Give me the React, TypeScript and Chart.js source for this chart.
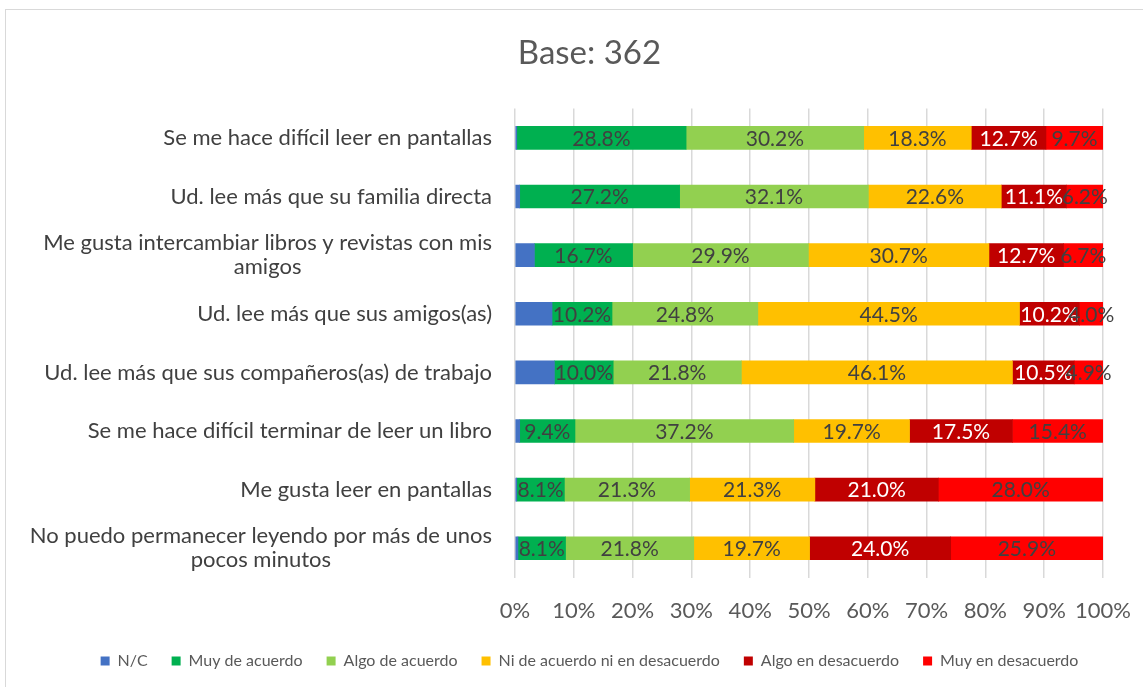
import React, { useEffect, useRef } from 'react';
import { Chart, registerables } from 'chart.js';

Chart.register(...registerables);

const FONT = 'Lato, "Noto Sans", sans-serif';

const title = 'Base: 362';
const categories: string[][] = [
  ['Se me hace difícil leer en pantallas'],
  ['Ud. lee más que su familia directa'],
  ['Me gusta intercambiar libros y revistas con mis', 'amigos'],
  ['Ud. lee más que sus amigos(as)'],
  ['Ud. lee más que sus compañeros(as) de trabajo'],
  ['Se me hace difícil terminar de leer un libro'],
  ['Me gusta leer en pantallas'],
  ['No puedo permanecer leyendo por más de unos', 'pocos minutos'],
];
const seriesNames = [
  'N/C',
  'Muy de acuerdo',
  'Algo de acuerdo',
  'Ni de acuerdo ni en desacuerdo',
  'Algo en desacuerdo',
  'Muy en desacuerdo',
];
const nc = [0.3, 0.8, 3.3, 6.3, 6.7, 0.8, 0.3, 0.5];
const muyDeAcuerdo = [28.8, 27.2, 16.7, 10.2, 10.0, 9.4, 8.1, 8.1];
const algoDeAcuerdo = [30.2, 32.1, 29.9, 24.8, 21.8, 37.2, 21.3, 21.8];
const niNi = [18.3, 22.6, 30.7, 44.5, 46.1, 19.7, 21.3, 19.7];
const algoEnDesacuerdo = [12.7, 11.1, 12.7, 10.2, 10.5, 17.5, 21.0, 24.0];
const muyEnDesacuerdo = [9.7, 6.2, 6.7, 4.0, 4.9, 15.4, 28.0, 25.9];

const seriesValues = [nc, muyDeAcuerdo, algoDeAcuerdo, niNi, algoEnDesacuerdo, muyEnDesacuerdo];
const seriesColors = ['#4472C4', '#00B050', '#92D050', '#FFC000', '#C00000', '#FF0000'];
const labelColors = ['#404040', '#404040', '#404040', '#404040', '#FFFFFF', '#404040'];
const showLabels = [false, true, true, true, true, true];

const rowTotals = categories.map((_, i) => seriesValues.reduce((s, arr) => s + arr[i], 0));

const dataLabelPlugin = {
  id: 'dataLabels',
  afterDatasetsDraw(chart: any) {
    const ctx = chart.ctx;
    ctx.save();
    ctx.font = `21px ${FONT}`;
    ctx.textAlign = 'center';
    ctx.textBaseline = 'middle';
    chart.data.datasets.forEach((ds: any, d: number) => {
      if (!showLabels[d]) return;
      const meta = chart.getDatasetMeta(d);
      meta.data.forEach((el: any, i: number) => {
        const p = el.getCenterPoint();
        ctx.fillStyle = labelColors[d];
        ctx.fillText(seriesValues[d][i].toFixed(1) + '%', p.x, p.y + 1);
      });
    });
    ctx.restore();
  },
};

const yLabelPlugin = {
  id: 'yLabels',
  afterDraw(chart: any) {
    const ctx = chart.ctx;
    const yScale = chart.scales.y;
    const right = chart.chartArea.left - 23;
    const lh = 24;
    ctx.save();
    ctx.font = `22px ${FONT}`;
    ctx.fillStyle = '#404040';
    ctx.textAlign = 'center';
    ctx.textBaseline = 'middle';
    categories.forEach((lines, i) => {
      const y = yScale.getPixelForValue(i);
      const widest = Math.max(...lines.map((l) => ctx.measureText(l).width));
      const cx = right - widest / 2;
      const y0 = y - ((lines.length - 1) * lh) / 2;
      lines.forEach((l, k) => ctx.fillText(l, cx, y0 + k * lh));
    });
    ctx.restore();
  },
};

export default function App() {
  const ref = useRef<HTMLCanvasElement | null>(null);
  useEffect(() => {
    if (!ref.current) return;
    const chart = new Chart(ref.current, {
      type: 'bar',
      data: {
        labels: categories,
        datasets: seriesNames.map((name, d) => ({
          label: name,
          data: seriesValues[d].map((v, i) => (v / rowTotals[i]) * 100),
          backgroundColor: seriesColors[d],
          borderWidth: 0,
          barThickness: 23,
        })),
      },
      options: {
        indexAxis: 'y',
        responsive: false,
        animation: false,
        layout: { padding: { left: 76, right: 40, top: 0, bottom: 8 } },
        plugins: {
          title: {
            display: true,
            text: title,
            color: '#595959',
            font: { family: FONT, size: 33, weight: 'normal' },
            padding: { top: 34, bottom: 35 },
          },
          legend: {
            position: 'bottom',
            labels: {
              boxWidth: 9,
              boxHeight: 9,
              color: '#595959',
              font: { family: FONT, size: 16 },
              padding: 24,
            },
          },
          tooltip: { enabled: false },
        },
        scales: {
          x: {
            stacked: true,
            min: 0,
            max: 100,
            ticks: {
              stepSize: 10,
              maxRotation: 0,
              minRotation: 0,
              autoSkip: false,
              callback: (v: any) => v + '%',
              color: '#595959',
              font: { family: FONT, size: 22 },
              padding: 20,
            },
            grid: { color: '#d9d9d9', lineWidth: 1.5, drawTicks: false },
            border: { display: false },
            afterFit: (s: any) => {
              s.paddingRight = 0;
              s.height = s.height - 15;
            },
          },
          y: {
            stacked: true,
            ticks: { display: false },
            grid: { display: false },
            border: { display: false },
            afterFit: (s: any) => {
              s.width = 515 - 76;
            },
          },
        },
      },
      plugins: [dataLabelPlugin, yLabelPlugin],
    } as any);
    return () => chart.destroy();
  }, []);

  return (
    <div style={{ position: 'absolute', left: 0, top: 0, width: 1143, height: 687, background: '#fff' }}>
      <div
        style={{
          position: 'absolute',
          left: 5,
          top: 9,
          width: 1143,
          height: 687,
          border: '1px solid #d9d9d9',
          boxSizing: 'border-box',
        }}
      />
      <canvas ref={ref} width={1143} height={687} style={{ position: 'absolute', left: 0, top: 0 }} />
    </div>
  );
}
